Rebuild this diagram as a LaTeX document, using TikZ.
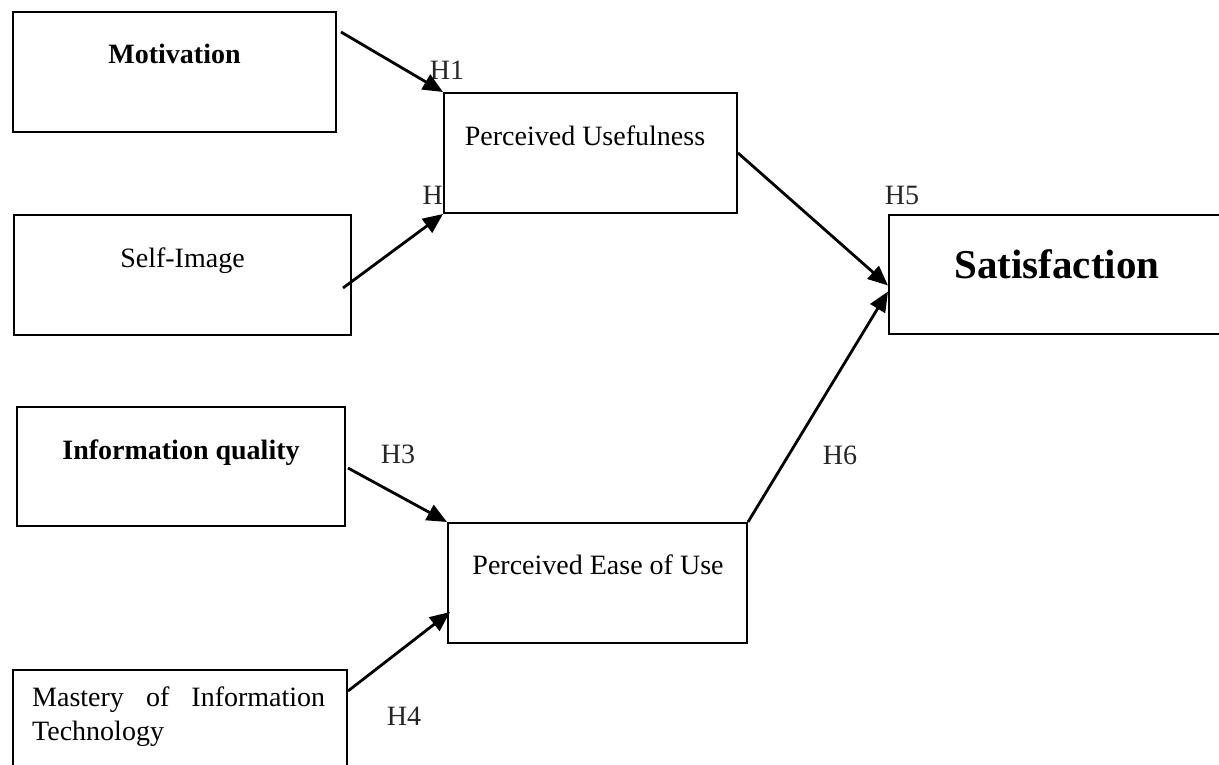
\documentclass[tikz,border=0pt]{standalone}
\usepackage{fontspec}
\setmainfont{Liberation Serif}
\usetikzlibrary{arrows.meta,calc}
\begin{document}
\begin{tikzpicture}[x=1pt,y=-1pt,
  box/.style={draw,line width=2pt,rectangle,inner sep=0pt},
  lbl/.style={font=\fontsize{28}{30}\selectfont,inner sep=0pt,anchor=base},
  blbl/.style={font=\fontsize{28}{30}\selectfont\bfseries,inner sep=0pt,anchor=base},
  hyp/.style={font=\fontsize{28}{30}\selectfont,inner sep=0pt,anchor=base,text=black!85},
  arr/.style={line width=2.8pt,-{Triangle[length=20pt,width=17pt]}}]
\useasboundingbox (0,0) rectangle (1219,764);
% boxes
\node[box,minimum width=323pt,minimum height=120pt] (mot) at (174.5,72) {};
\node[box,minimum width=337pt,minimum height=120pt] (self) at (182.5,275) {};
\node[box,minimum width=293pt,minimum height=120pt] (pu) at (590.5,153) {};
\node[box,minimum width=341pt,minimum height=119pt] (sat) at (1059.5,274.5) {};
\node[box,minimum width=328pt,minimum height=119pt] (iq) at (181,466.5) {};
\node[box,minimum width=299pt,minimum height=120pt] (peou) at (597.5,583) {};
\node[box,minimum width=334pt,minimum height=120pt] (mast) at (180,730) {};
% texts
\node[blbl] (tmot) at (174.5,63) {Motivation};
\node[lbl] (tself) at (182.5,267) {Self-Image};
\node[lbl] (tpu) at (585,145) {Perceived Usefulness};
\node[blbl,font=\fontsize{41}{44}\selectfont\bfseries] (tsat) at (1057,278) {Satisfaction};
\node[blbl] (tiq) at (181,459) {Information quality};
\node[lbl] (tpeou) at (598,574) {Perceived Ease of Use};
\node[lbl,anchor=base west,align=left,text width=293pt] (tmast) at (32,706)
  {Mastery\hfill of\hfill Information\\[4pt]Technology};
% hypothesis labels
\node[hyp] (h1) at (447,79) {H1};
\node[hyp,anchor=base east] (h2) at (443,204) {H};
\node[hyp] (h5) at (902,204) {H5};
\node[hyp] (h3) at (398,463) {H3};
\node[hyp] (h6) at (840,464) {H6};
\node[hyp] (h4) at (404,725) {H4};
% connector end points
\coordinate (s1) at ($(mot.north east)+(4,21)$);
\coordinate (s2) at ($(self.east)+(-9,13)$);
\coordinate (s3) at ($(iq.east)+(2,1.5)$);
\coordinate (s4) at ($(mast.north east)+(0,22)$);
\coordinate (t5) at ($(sat.west)+(0,11)$);
\coordinate (t6) at ($(sat.west)+(0,17)$);
\coordinate (t4) at ($(peou.west)+(3,29)$);
% connectors
\draw[arr] (s1) -- (pu.north west);
\draw[arr] (s2) -- (pu.south west);
\draw[arr] (pu.east) -- (t5);
\draw[arr] (peou.north east) -- (t6);
\draw[arr] (s3) -- (peou.north west);
\draw[arr] (s4) -- (t4);
\end{tikzpicture}
\end{document}
